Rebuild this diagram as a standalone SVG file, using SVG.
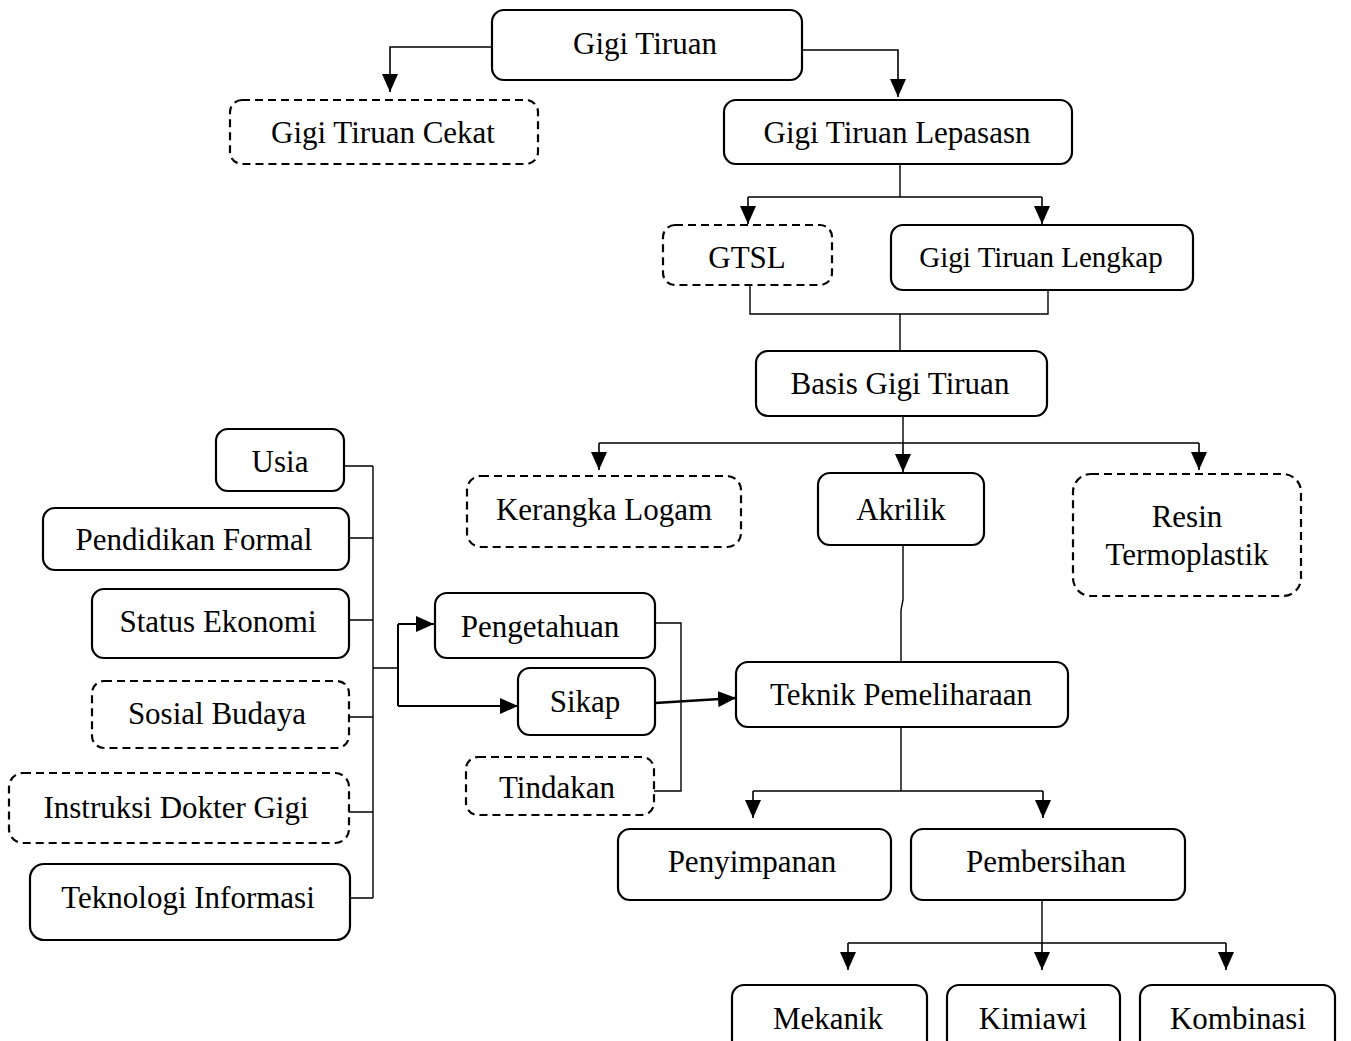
<svg xmlns="http://www.w3.org/2000/svg" width="1351" height="1041" viewBox="0 0 1351 1041">
<style>
.box{fill:#fff;stroke:#000;stroke-width:2.2}
.dash{fill:#fff;stroke:#000;stroke-width:2.2;stroke-dasharray:8 5}
text{font-family:'Liberation Serif','Times New Roman',Times,serif;font-size:31px;fill:#000;text-anchor:middle}
.c{fill:none;stroke:#000;stroke-width:1.4}
.ca{fill:none;stroke:#000;stroke-width:1.6;marker-end:url(#ah)}
.cb{fill:none;stroke:#000;stroke-width:2.4;marker-end:url(#ah)}
</style>
<defs>
<marker id="ah" markerUnits="userSpaceOnUse" markerWidth="18" markerHeight="16" viewBox="0 0 18 16" refX="18" refY="8" orient="auto">
<path d="M0,0 L18,8 L0,16 z" fill="#000"/>
</marker>
</defs>
<rect width="1351" height="1041" fill="#fff"/>
<g id="connectors">
<path class="ca" d="M492,47 H390 V92"/>
<path class="ca" d="M802,50 H898 V97"/>
<path class="c" d="M900,164 V197 M748,197 H1042"/>
<path class="ca" d="M748,197 V224"/>
<path class="ca" d="M1042,197 V224"/>
<path class="c" d="M750,285 V314 H1048 V290 M900,314 V351"/>
<path class="c" d="M903,416 V443 M599,443 H1199"/>
<path class="ca" d="M599,443 V470"/>
<path class="ca" d="M903,443 V472"/>
<path class="ca" d="M1199,443 V470"/>
<path class="c" d="M903,545 V600 L901,610 V662"/>
<path class="c" d="M373,466 V898 M344,466 H373 M349,538 H373 M349,620 H373 M349,717 H373 M349,812 H373 M350,898 H373 M373,668 H398"/>
<path class="c" d="M398,624 V706" style="stroke-width:2"/>
<path class="cb" d="M398,624 H434" style="stroke-width:2"/>
<path class="cb" d="M398,706 H518" style="stroke-width:2"/>
<path class="c" d="M655,623 H681 V791 H654"/>
<path class="cb" d="M655,703 L736,698"/>
<path class="c" d="M901,727 V791 M753,791 H1043"/>
<path class="ca" d="M753,791 V818"/>
<path class="ca" d="M1043,791 V818"/>
<path class="c" d="M1042,900 V943 M848,943 H1226"/>
<path class="ca" d="M848,943 V970"/>
<path class="ca" d="M1042,943 V970"/>
<path class="ca" d="M1226,943 V970"/>
</g>
<g font-family="Liberation Serif, serif">
<g id="n-gigi-tiruan"><rect class="box" x="492" y="10" width="310" height="70" rx="12"/><text x="645" y="54">Gigi Tiruan</text></g>
<g id="n-cekat"><rect class="dash" x="230" y="100" width="308" height="64" rx="12"/><text x="383" y="143">Gigi Tiruan Cekat</text></g>
<g id="n-lepasasn"><rect class="box" x="724" y="100" width="348" height="64" rx="12"/><text x="897" y="143">Gigi Tiruan Lepasasn</text></g>
<g id="n-gtsl"><rect class="dash" x="663" y="225" width="169" height="60" rx="12"/><text x="747" y="268">GTSL</text></g>
<g id="n-lengkap"><rect class="box" x="891" y="225" width="302" height="65" rx="12"/><text x="1041" y="267" style="font-size:29px">Gigi Tiruan Lengkap</text></g>
<g id="n-basis"><rect class="box" x="756" y="351" width="291" height="65" rx="12"/><text x="900" y="394">Basis Gigi Tiruan</text></g>
<g id="n-kerangka"><rect class="dash" x="467" y="476" width="274" height="71" rx="14"/><text x="604" y="520">Kerangka Logam</text></g>
<g id="n-akrilik"><rect class="box" x="818" y="473" width="166" height="72" rx="12"/><text x="901" y="520">Akrilik</text></g>
<g id="n-resin"><rect class="dash" x="1073" y="474" width="228" height="122" rx="18"/><text x="1187" y="527">Resin</text><text x="1187" y="565">Termoplastik</text></g>
<g id="n-usia"><rect class="box" x="216" y="429" width="128" height="62" rx="12"/><text x="280" y="472">Usia</text></g>
<g id="n-pendidikan"><rect class="box" x="43" y="508" width="306" height="62" rx="12"/><text x="194" y="550">Pendidikan Formal</text></g>
<g id="n-status"><rect class="box" x="92" y="589" width="257" height="69" rx="12"/><text x="218" y="632">Status Ekonomi</text></g>
<g id="n-sosial"><rect class="dash" x="92" y="681" width="257" height="67" rx="12"/><text x="217" y="724">Sosial Budaya</text></g>
<g id="n-instruksi"><rect class="dash" x="9" y="773" width="340" height="70" rx="14"/><text x="176" y="818">Instruksi Dokter Gigi</text></g>
<g id="n-teknologi"><rect class="box" x="30" y="864" width="320" height="76" rx="14"/><text x="188" y="908">Teknologi Informasi</text></g>
<g id="n-pengetahuan"><rect class="box" x="435" y="593" width="220" height="65" rx="12"/><text x="540" y="637">Pengetahuan</text></g>
<g id="n-sikap"><rect class="box" x="518" y="668" width="137" height="67" rx="12"/><text x="585" y="712">Sikap</text></g>
<g id="n-tindakan"><rect class="dash" x="466" y="757" width="188" height="58" rx="12"/><text x="557" y="798">Tindakan</text></g>
<g id="n-teknik"><rect class="box" x="736" y="662" width="332" height="65" rx="12"/><text x="901" y="705">Teknik Pemeliharaan</text></g>
<g id="n-penyimpanan"><rect class="box" x="618" y="829" width="273" height="71" rx="12"/><text x="752" y="872">Penyimpanan</text></g>
<g id="n-pembersihan"><rect class="box" x="911" y="829" width="274" height="71" rx="12"/><text x="1046" y="872">Pembersihan</text></g>
<g id="n-mekanik"><rect class="box" x="732" y="985" width="195" height="80" rx="12"/><text x="828" y="1029">Mekanik</text></g>
<g id="n-kimiawi"><rect class="box" x="947" y="985" width="173" height="80" rx="12"/><text x="1033" y="1029">Kimiawi</text></g>
<g id="n-kombinasi"><rect class="box" x="1140" y="985" width="195" height="80" rx="12"/><text x="1238" y="1029">Kombinasi</text></g>
</g>
</svg>
